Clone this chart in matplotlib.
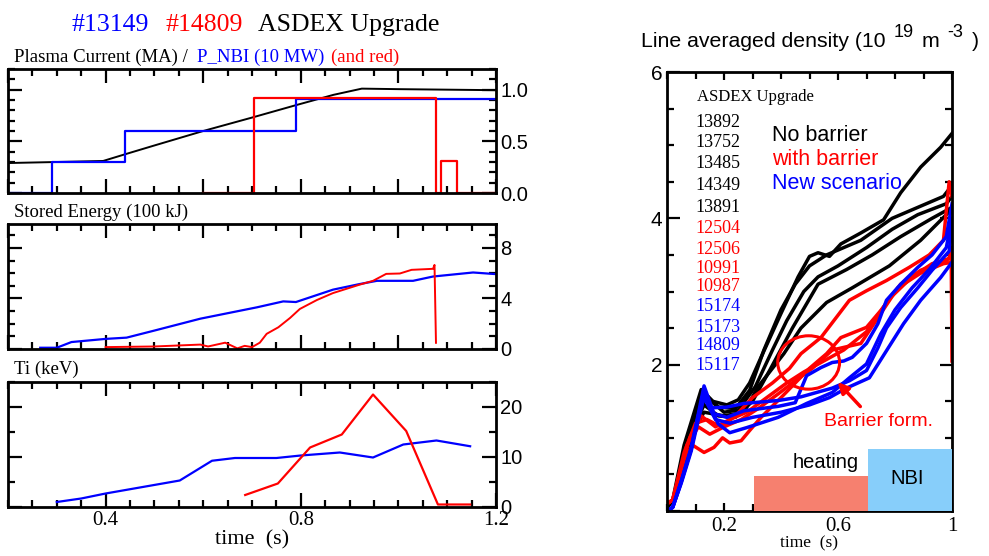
import matplotlib
matplotlib.use("Agg")
import matplotlib.pyplot as plt
from matplotlib.patches import Ellipse, Rectangle
from matplotlib.ticker import MultipleLocator, FixedLocator

plt.rcParams["font.family"] = "Liberation Sans"
SERIF = "Liberation Serif"
RED = "#ff0000"
BLUE = "#0000ff"

# ---- left panels: shot #13149 (blue / black) and #14809 (red) ----
ip_t = [0.2, 0.3, 0.395, 0.44, 0.5, 0.6, 0.7, 0.79, 0.867, 0.925, 1.0, 1.1, 1.2]
ip_v = [0.29, 0.30, 0.31, 0.375, 0.46, 0.60, 0.73, 0.85, 0.95, 1.01, 1.005, 1.0, 0.995]
nbi_blue_t = [0.2, 0.29, 0.44, 0.79, 1.2]
nbi_blue_v = [0.0, 0.30, 0.60, 0.91, 0.91]
nbi_red_t = [0.6, 0.704, 1.077, 1.087, 1.12, 1.2]
nbi_red_v = [0.0, 0.92, 0.0, 0.31, 0.0, 0.0]

we_blue_t = [0.266, 0.30, 0.33, 0.40, 0.443, 0.50, 0.594, 0.71, 0.764, 0.79, 0.866,
             0.92, 0.956, 1.03, 1.071, 1.153, 1.2]
we_blue_v = [0.1, 0.1, 0.55, 0.8, 0.9, 1.46, 2.4, 3.3, 3.77, 3.72, 4.7,
             5.14, 5.4, 5.4, 5.74, 6.06, 5.93]
we_red_t = [0.40, 0.50, 0.594, 0.61, 0.645, 0.67, 0.685, 0.70, 0.716, 0.73, 0.754,
            0.778, 0.798, 0.833, 0.866, 0.92, 0.948, 0.975, 1.003, 1.027, 1.071, 1.074, 1.077]
we_red_v = [0.15, 0.2, 0.35, 0.2, 0.5, 0.05, 0.25, 0.15, 0.5, 1.2, 1.72,
            2.46, 3.17, 3.88, 4.43, 5.09, 5.4, 5.95, 5.98, 6.27, 6.35, 6.66, 0.49]

ti_blue_t = [0.30, 0.35, 0.40, 0.552, 0.618, 0.665, 0.75, 0.80, 0.88, 0.948, 1.01, 1.078, 1.147]
ti_blue_v = [1.0, 1.7, 2.7, 5.3, 9.25, 9.8, 9.8, 10.3, 10.9, 9.9, 12.5, 13.3, 12.15]
ti_red_t = [0.686, 0.753, 0.819, 0.884, 0.948, 1.016, 1.081, 1.147]
ti_red_v = [2.4, 4.7, 11.9, 14.5, 22.5, 15.2, 0.5, 0.5]

# ---- right panel: line averaged density, (t [s], n [1e19 m^-3]) ----
no_barrier = [
    [(0.0, 0.05), (0.02, 0.15), (0.06, 0.9), (0.12, 1.66), (0.16, 1.50), (0.21, 1.45),
     (0.25, 1.52), (0.29, 1.75), (0.33, 2.1), (0.40, 2.7), (0.46, 3.2), (0.50, 3.48),
     (0.53, 3.53), (0.57, 3.48), (0.61, 3.65), (0.68, 3.80), (0.76, 3.98), (0.82, 4.35),
     (0.89, 4.70), (0.96, 4.97), (1.0, 5.16)],
    [(0.0, 0.05), (0.03, 0.2), (0.08, 1.1), (0.13, 1.62), (0.18, 1.42), (0.24, 1.40),
     (0.29, 1.65), (0.34, 2.2), (0.40, 2.75), (0.45, 3.1), (0.50, 3.35), (0.56, 3.5),
     (0.62, 3.6), (0.68, 3.7), (0.79, 4.0), (0.88, 4.15), (0.97, 4.3), (1.0, 4.45)],
    [(0.0, 0.05), (0.03, 0.2), (0.10, 1.3), (0.14, 1.55), (0.20, 1.35), (0.25, 1.38),
     (0.31, 1.7), (0.37, 2.2), (0.42, 2.6), (0.48, 3.0), (0.53, 3.2), (0.60, 3.35),
     (0.70, 3.6), (0.79, 3.85), (0.88, 4.05), (0.98, 4.2), (1.0, 4.3)],
    [(0.0, 0.05), (0.03, 0.2), (0.10, 1.2), (0.13, 1.45), (0.18, 1.3), (0.24, 1.28),
     (0.30, 1.5), (0.36, 1.92), (0.44, 2.5), (0.53, 3.1), (0.63, 3.3), (0.72, 3.5),
     (0.82, 3.75), (0.93, 4.0), (1.0, 4.15)],
    [(0.0, 0.05), (0.03, 0.2), (0.10, 1.15), (0.13, 1.35), (0.20, 1.3), (0.27, 1.35),
     (0.32, 1.7), (0.41, 2.15), (0.47, 2.5), (0.56, 2.85), (0.65, 3.05), (0.78, 3.35),
     (0.89, 3.7), (0.98, 4.05), (1.0, 4.12)],
]
with_barrier = [
    [(0.0, 0.1), (0.02, 0.15), (0.06, 0.8), (0.10, 1.2), (0.14, 1.25), (0.19, 1.15),
     (0.24, 1.3), (0.30, 1.55), (0.37, 1.75), (0.43, 1.95), (0.47, 2.15), (0.54, 2.37),
     (0.64, 2.88), (0.70, 3.01), (0.77, 3.15), (0.85, 3.33), (0.92, 3.5), (0.97, 3.7),
     (0.99, 4.5), (1.0, 4.3)],
    [(0.0, 0.1), (0.02, 0.15), (0.06, 0.7), (0.09, 0.9), (0.13, 0.8), (0.165, 0.87),
     (0.195, 1.0), (0.22, 0.93), (0.26, 0.96), (0.29, 1.1), (0.33, 1.28), (0.40, 1.55),
     (0.45, 1.75), (0.50, 1.95), (0.56, 2.15), (0.61, 2.37), (0.70, 2.51), (0.75, 2.74),
     (0.82, 3.1), (0.89, 3.29), (0.98, 3.42), (1.0, 3.5)],
    [(0.0, 0.1), (0.02, 0.15), (0.07, 0.9), (0.11, 1.15), (0.15, 1.05), (0.20, 1.15),
     (0.26, 1.25), (0.32, 1.4), (0.39, 1.6), (0.45, 1.78), (0.51, 1.95), (0.58, 2.2),
     (0.68, 2.29), (0.74, 2.64), (0.81, 3.05), (0.89, 3.25), (0.97, 3.38), (1.0, 3.4)],
    [(0.0, 0.1), (0.02, 0.15), (0.08, 1.0), (0.12, 1.3), (0.17, 1.15), (0.22, 1.25),
     (0.28, 1.35), (0.35, 1.55), (0.42, 1.75), (0.48, 1.9), (0.55, 2.05), (0.62, 2.2),
     (0.70, 2.45), (0.78, 2.9), (0.86, 3.2), (0.93, 3.38), (0.99, 3.45), (0.997, 3.6),
     (1.0, 2.05)],
]
new_scenario = [
    [(0.0, 0.0), (0.02, 0.05), (0.05, 0.41), (0.085, 0.87), (0.11, 1.33), (0.13, 1.71),
     (0.165, 1.33), (0.21, 1.28), (0.27, 1.37), (0.33, 1.40), (0.39, 1.43), (0.45, 1.48),
     (0.49, 1.85), (0.54, 1.96), (0.58, 2.03), (0.62, 2.05), (0.65, 2.1), (0.70, 2.29),
     (0.74, 2.56), (0.77, 2.88), (0.82, 3.1), (0.88, 3.33), (0.93, 3.5), (0.98, 3.75),
     (1.0, 4.2)],
    [(0.0, 0.0), (0.02, 0.05), (0.05, 0.40), (0.085, 0.85), (0.11, 1.3), (0.13, 1.65),
     (0.155, 1.41), (0.21, 1.42), (0.27, 1.47), (0.39, 1.51), (0.47, 1.56), (0.58, 1.68),
     (0.64, 1.78), (0.70, 1.92), (0.74, 2.23), (0.77, 2.5), (0.82, 2.78), (0.88, 3.05),
     (0.93, 3.29), (0.99, 3.55), (1.0, 3.9)],
    [(0.0, 0.0), (0.02, 0.05), (0.05, 0.4), (0.085, 0.85), (0.11, 1.3), (0.13, 1.6),
     (0.18, 1.19), (0.22, 1.07), (0.28, 1.14), (0.39, 1.28), (0.49, 1.47), (0.58, 1.62),
     (0.64, 1.82), (0.70, 2.01), (0.75, 2.42), (0.80, 2.75), (0.86, 3.05), (0.92, 3.3),
     (0.98, 3.6), (1.0, 4.0)],
    [(0.0, 0.0), (0.02, 0.05), (0.05, 0.38), (0.085, 0.82), (0.11, 1.25), (0.13, 1.55),
     (0.17, 1.25), (0.22, 1.2), (0.30, 1.28), (0.40, 1.35), (0.50, 1.45), (0.57, 1.55),
     (0.63, 1.68), (0.71, 1.82), (0.77, 2.19), (0.83, 2.56), (0.89, 2.88), (0.96, 3.19),
     (1.0, 3.4)],
]
shot_numbers = ["13892", "13752", "13485", "14349", "13891", "12504", "12506",
                "10991", "10987", "15174", "15173", "14809", "15117"]
shot_colors = ["black"] * 5 + [RED] * 4 + [BLUE] * 4
shot_y = [5.31, 5.04, 4.75, 4.45, 4.15, 3.86, 3.58, 3.32, 3.07, 2.79, 2.51, 2.26, 1.99]

W, H = 989, 556
fig = plt.figure(figsize=(W / 100, H / 100), dpi=100)


def px_axes(x0, y0, x1, y1):
    return fig.add_axes([x0 / W, 1 - y1 / H, (x1 - x0) / W, (y1 - y0) / H])


def style_left(ax, ymax, ymaj, ymin, fmt):
    ax.set_xlim(0.2, 1.2)
    ax.set_ylim(0, ymax)
    ax.xaxis.set_major_locator(MultipleLocator(0.2))
    ax.xaxis.set_minor_locator(MultipleLocator(0.05))
    ax.yaxis.set_major_locator(MultipleLocator(ymaj))
    ax.yaxis.set_minor_locator(MultipleLocator(ymin))
    ax.yaxis.set_major_formatter(fmt)
    ax.tick_params(which="both", direction="in", top=True, right=True, left=True,
                   labelleft=False, labelright=True, labelbottom=False, width=1.6)
    ax.tick_params(which="major", length=10, labelsize=14.5, pad=3)
    ax.tick_params(which="minor", length=5)
    for s in ax.spines.values():
        s.set_linewidth(2)


ax1 = px_axes(8, 69, 496, 193)
ax1.plot(ip_t, ip_v, color="black", lw=1.4)
ax1.plot(nbi_blue_t, nbi_blue_v, color=BLUE, lw=1.6, drawstyle="steps-post")
ax1.plot(nbi_red_t, nbi_red_v, color=RED, lw=1.6, drawstyle="steps-post")
style_left(ax1, 1.2, 0.5, 0.1, "{x:.1f}")

ax2 = px_axes(8, 224, 496, 349)
ax2.plot(we_blue_t, we_blue_v, color=BLUE, lw=1.6)
ax2.plot(we_red_t, we_red_v, color=RED, lw=1.4)
style_left(ax2, 9.9, 4, 1, "{x:.0f}")

ax3 = px_axes(8, 382, 496, 507)
ax3.plot(ti_blue_t, ti_blue_v, color=BLUE, lw=1.6)
ax3.plot(ti_red_t, ti_red_v, color=RED, lw=1.6)
style_left(ax3, 25, 10, 5, "{x:.0f}")
ax3.tick_params(labelbottom=True)
ax3.set_xticks([0.4, 0.8, 1.2])
ax3.set_xticklabels(["0.4", "0.8", "1.2"], fontfamily=SERIF, fontsize=15)
ax3.set_xlabel("time  (s)", fontfamily=SERIF, fontsize=16, labelpad=0)

fig.text(72 / W, 1 - 31 / H, "#13149", color=BLUE, fontfamily=SERIF, fontsize=18.5)
fig.text(165 / W, 1 - 31 / H, "#14809", color=RED, fontfamily=SERIF, fontsize=18.5)
fig.text(258 / W, 1 - 31 / H, "ASDEX Upgrade", color="black", fontfamily=SERIF, fontsize=18.5)
fig.text(14 / W, 1 - 62 / H, "Plasma Current (MA) /", fontfamily=SERIF, fontsize=13.5)
fig.text(197 / W, 1 - 62 / H, "P_NBI (10 MW)", color=BLUE, fontfamily=SERIF, fontsize=13.5)
fig.text(331 / W, 1 - 62 / H, "(and red)", color=RED, fontfamily=SERIF, fontsize=13.5)
fig.text(14 / W, 1 - 217 / H, "Stored Energy (100 kJ)", fontfamily=SERIF, fontsize=13.5)
fig.text(14 / W, 1 - 374 / H, "Ti (keV)", fontfamily=SERIF, fontsize=13.5)

# ---- right panel ----
axr = px_axes(667, 72, 952, 511)
for group, col in ((no_barrier, "black"), (with_barrier, RED), (new_scenario, BLUE)):
    for curve in group:
        t, n = zip(*curve)
        axr.plot(t, n, color=col, lw=2.5, solid_joinstyle="round")

axr.add_patch(Rectangle((0.305, 0.0), 0.40, 0.48, color="#f6806f", lw=0, zorder=3))
axr.add_patch(Rectangle((0.705, 0.0), 0.295, 0.85, color="#87cefa", lw=0, zorder=3))
axr.text(0.556, 0.66, "heating", ha="center", va="center", fontsize=14.5, zorder=4)
axr.text(0.843, 0.44, "NBI", ha="center", va="center", fontsize=14.5, zorder=4)
axr.add_patch(Ellipse((0.497, 2.03), 0.217, 0.73, fill=False, ec=RED, lw=2.2, zorder=4))
axr.annotate("", xy=(0.592, 1.79), xytext=(0.685, 1.40),
             arrowprops=dict(arrowstyle="-|>", color=RED, lw=2.5, mutation_scale=16))
axr.text(0.55, 1.23, "Barrier form.", color=RED, fontsize=14, va="center")

axr.text(0.105, 5.66, "ASDEX Upgrade", fontfamily=SERIF, fontsize=12, va="center")
for lab, col, y in zip(shot_numbers, shot_colors, shot_y):
    axr.text(0.10, y, lab, color=col, fontfamily=SERIF, fontsize=13, va="center")
axr.text(0.37, 5.13, "No barrier", color="black", fontsize=15.5, va="center")
axr.text(0.37, 4.80, "with barrier", color=RED, fontsize=15.5, va="center")
axr.text(0.37, 4.48, "New scenario", color=BLUE, fontsize=15.5, va="center")

axr.set_xlim(0, 1)
axr.set_ylim(0, 6)
axr.xaxis.set_major_locator(FixedLocator([0.2, 0.6, 1.0]))
axr.xaxis.set_minor_locator(MultipleLocator(0.1))
axr.yaxis.set_major_locator(MultipleLocator(2))
axr.yaxis.set_minor_locator(MultipleLocator(0.5))
axr.yaxis.set_major_formatter(lambda v, p: "" if v == 0 else f"{v:.0f}")
axr.set_xticklabels(["0.2", "0.6", "1"], fontfamily=SERIF, fontsize=15)
axr.tick_params(which="both", direction="in", top=True, right=True, width=1.6)
axr.tick_params(which="major", length=9, labelsize=15)
axr.tick_params(axis="x", which="major", length=6, pad=4)
axr.tick_params(which="minor", length=5)
for s in axr.spines.values():
    s.set_linewidth(2)
axr.set_xlabel("time  (s)", fontfamily=SERIF, fontsize=12.5, labelpad=0)

# title with full-size superscripts, laid out piece by piece
fig.text(641 / W, 1 - 47 / H, "Line averaged density (10", fontsize=15.3)
fig.text(894 / W, 1 - 37 / H, "19", fontsize=13)
fig.text(922 / W, 1 - 47 / H, "m", fontsize=15.3)
fig.text(947 / W, 1 - 37 / H, "-3", fontsize=13)
fig.text(972 / W, 1 - 47 / H, ")", fontsize=15.3)

fig.savefig("out.png", dpi=100)
